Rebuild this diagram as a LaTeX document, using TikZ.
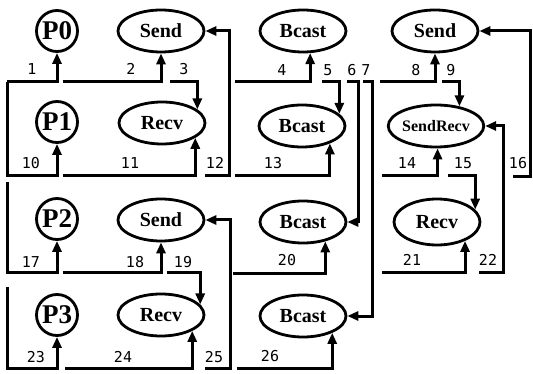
\documentclass[tikz,border=0pt]{standalone}
\usepackage{fontspec}
\setmainfont{Liberation Serif}
\newfontfamily\numfam{DejaVu Sans Mono}
\usetikzlibrary{shapes.geometric,arrows.meta}
\begin{document}
\begin{tikzpicture}[x=1pt,y=-1pt,
  proc/.style={circle,draw,line width=2.8pt,minimum size=41pt,inner sep=0pt,font=\fontsize{27}{27}\selectfont\bfseries},
  op/.style={ellipse,draw,line width=2.8pt,minimum width=86pt,minimum height=42pt,inner sep=0pt,font=\fontsize{20}{20}\selectfont\bfseries},
  conn/.style={line width=3pt,-{Triangle[length=11pt,width=9pt]}},
  num/.style={font=\numfam\fontsize{15}{15}\selectfont,inner sep=0pt}]
\useasboundingbox (0,0) rectangle (533,374);
% nodes
\node[proc] (P0) at (57,31) {P0};
\node[proc] (P1) at (57,122) {P1};
\node[proc] (P2) at (57,219) {P2};
\node[proc] (P3) at (57,315) {P3};
\node[op] (S0) at (161,31) {Send};
\node[op] (R1) at (162,123) {Recv};
\node[op] (S2) at (161,220) {Send};
\node[op] (R3) at (161,315) {Recv};
\node[op] (B0) at (303,31) {Bcast};
\node[op] (B1) at (302,126) {Bcast};
\node[op] (B2) at (303,222) {Bcast};
\node[op] (B3) at (303,316) {Bcast};
\node[op] (S3) at (435,31) {Send};
\node[op,font=\fontsize{16}{16}\selectfont\bfseries] (SR) at (436,126) {SendRecv};
\node[op,minimum height=46pt] (R2) at (437,222) {Recv};
% start points
\coordinate (s1) at (7,82);
\coordinate (s2) at (63,82);
\coordinate (s3) at (170,82);
\coordinate (s4) at (235,82);
\coordinate (s5) at (322,82);
\coordinate (s6) at (347,82);
\coordinate (s7) at (363,82);
\coordinate (s8) at (380,82);
\coordinate (s9) at (442,82);
\coordinate (s11) at (63,176);
\coordinate (s12) at (205,176);
\coordinate (s13) at (235,176);
\coordinate (s14) at (382,176);
\coordinate (s15) at (448,176);
\coordinate (s16) at (513,177);
\coordinate (s17) at (7,182);
\coordinate (s18) at (63,273);
\coordinate (s19) at (167,273);
\coordinate (s20) at (233,274);
\coordinate (s21) at (382,273);
\coordinate (s22) at (479,273);
\coordinate (s23) at (7,287);
\coordinate (s24) at (65,368);
\coordinate (s25) at (205,368);
\coordinate (s26) at (237,368);
% connectors
\draw[conn] (s1) -| (P0);
\draw[conn] (s1) -- ++(0,94) -| (P1);
\draw[conn] (s2) -| (S0);
\draw[conn] (s3) -| (R1.21);
\draw[conn] (s4) -| (B0.-72);
\draw[conn] (s5) -| (B1.18);
\draw[conn] (s6) -- ++(11,0) |- (B2);
\draw[conn] (s7) -- ++(9,0) |- (B3);
\draw[conn] (s8) -| (S3);
\draw[conn] (s9) -| (SR.40);
\draw[conn] (s11) -| (R1.-24);
\draw[conn] (s12) -- ++(24,0) |- (S0);
\draw[conn] (s13) -| (B1.-32);
\draw[conn] (s14) -| (SR.-86);
\draw[conn] (s15) -| (R2.18);
\draw[conn] (s16) -- ++(17,0) |- (S3);
\draw[conn] (s17) -- ++(0,91) -| (P2);
\draw[conn] (s18) -| (S2);
\draw[conn] (s19) -| (R3.15);
\draw[conn] (s20) -| (B2.-41);
\draw[conn] (s21) -| (R2.-34);
\draw[conn] (s22) -- ++(24,0) |- (SR);
\draw[conn] (s23) -- ++(0,81) -| (P3);
\draw[conn] (s24) -| (R3.-27);
\draw[conn] (s25) -- ++(25,0) |- (S2);
\draw[conn] (s26) -| (B3.-30);
% labels
\node[num] (l1) at (32,69) {1};
\node[num] (l2) at (131,69) {2};
\node[num] (l3) at (184,69) {3};
\node[num] (l4) at (282,70) {4};
\node[num] (l5) at (328,70) {5};
\node[num] (l6) at (352,70) {6};
\node[num] (l7) at (366,70) {7};
\node[num] (l8) at (416,70) {8};
\node[num] (l9) at (451,70) {9};
\node[num] (l10) at (31,163) {10};
\node[num] (l11) at (130,163) {11};
\node[num] (l12) at (215,163) {12};
\node[num] (l13) at (273,163) {13};
\node[num] (l14) at (407,163) {14};
\node[num] (l15) at (463,163) {15};
\node[num] (l16) at (518,163) {16};
\node[num] (l17) at (31,262) {17};
\node[num] (l18) at (135,262) {18};
\node[num] (l19) at (183,262) {19};
\node[num] (l20) at (287,260) {20};
\node[num] (l21) at (412,260) {21};
\node[num] (l22) at (488,260) {22};
\node[num] (l23) at (36,357) {23};
\node[num] (l24) at (123,357) {24};
\node[num] (l25) at (214,357) {25};
\node[num] (l26) at (270,356) {26};
\end{tikzpicture}
\end{document}
